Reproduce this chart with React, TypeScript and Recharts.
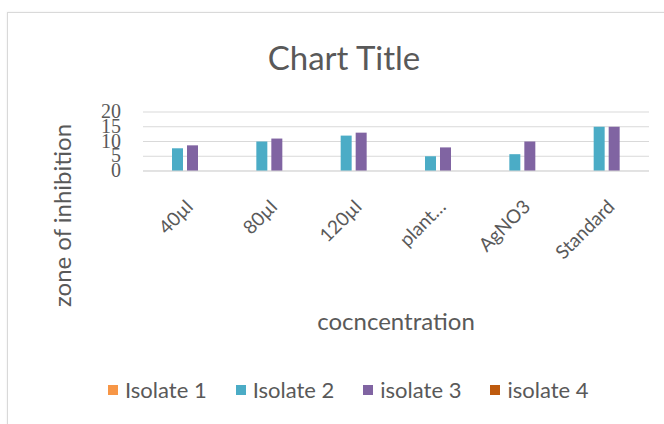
import React from 'react';
import { BarChart, Bar, XAxis, YAxis, CartesianGrid, Legend } from 'recharts';

const categories = ['40µl', '80µl', '120µl', 'plant…', 'AgNO3', 'Standard'];
const isolate1: (number | null)[] = [null, null, null, null, null, null];
const isolate2 = [7.7, 10, 12, 5, 5.7, 15];
const isolate3 = [8.7, 11, 13, 8, 10, 15];
const isolate4: (number | null)[] = [null, null, null, null, null, null];
const yTicks = [0, 5, 10, 15, 20];

const series = [
  { key: 'i1', name: 'Isolate 1', color: '#F79646', values: isolate1 },
  { key: 'i2', name: 'Isolate 2', color: '#4BACC6', values: isolate2 },
  { key: 'i3', name: 'isolate 3', color: '#8064A2', values: isolate3 },
  { key: 'i4', name: 'isolate 4', color: '#BE5A0E', values: isolate4 },
];

const rows = categories.map((name, i) => {
  const row: Record<string, string | number | null> = { name };
  series.forEach((s) => {
    row[s.key] = s.values[i];
  });
  return row;
});

const FONT = 'Lato, "Open Sans", sans-serif';
const GRAY = '#595959';

const CategoryTick = (props: any) => {
  const { x, y, payload } = props;
  return (
    <g transform={`translate(${x + 9},${y + 29})`}>
      <text textAnchor="end" transform="rotate(-45)" fill={GRAY} fontSize={19} fontFamily={FONT}>
        {payload.value}
      </text>
    </g>
  );
};

// serif digits packed tightly, they overlap each other on purpose
const ValueTick = (props: any) => {
  const { y, payload } = props;
  return (
    <text x={121} y={y} dy={6} textAnchor="end" fill={GRAY} fontSize={20} fontFamily='"Liberation Serif", serif'>
      {payload.value}
    </text>
  );
};

const YTitle = (props: any) => {
  const { viewBox } = props;
  const cx = 61;
  const cy = viewBox.y + viewBox.height / 2 + 74;
  return (
    <text x={cx} y={cy} transform={`rotate(-90 ${cx} ${cy})`} textAnchor="middle" dominantBaseline="central" fill={GRAY} fontSize={24} fontFamily={FONT}>
      zone of inhibition
    </text>
  );
};

const LegendRow = (props: any) => {
  const { payload } = props;
  return (
    <div style={{ display: 'flex', gap: 29, fontFamily: FONT, fontSize: 22, color: GRAY, alignItems: 'center', whiteSpace: 'nowrap' }}>
      {payload.map((p: any) => (
        <div key={p.value} style={{ display: 'flex', alignItems: 'center', gap: 7 }}>
          <span style={{ width: 10, height: 10, background: p.color, display: 'inline-block' }} />
          <span>{p.value}</span>
        </div>
      ))}
    </div>
  );
};

export default function App() {
  return (
    <div style={{ position: 'absolute', left: 0, top: 0, width: 664, height: 424, overflow: 'hidden', background: '#fff' }}>
      <div style={{ position: 'absolute', left: 7, top: 12, width: 700, height: 440, border: '1px solid #d9d9d9', boxShadow: '0 0 2px rgba(0,0,0,0.08)' }} />
      <div style={{ position: 'absolute', left: 0, top: 37, width: 688, textAlign: 'center', fontFamily: FONT, fontSize: 33, color: GRAY }}>
        Chart Title
      </div>
      <div style={{ position: 'absolute', left: 0, top: 0 }}>
        <BarChart
          width={664}
          height={424}
          data={rows}
          margin={{ top: 112, right: 15, left: 0, bottom: 88 }}
          barSize={11}
          barGap={4}
        >
          <CartesianGrid vertical={false} stroke="#d9d9d9" />
          <XAxis
            dataKey="name"
            height={165}
            tick={<CategoryTick />}
            tickLine={false}
            axisLine={{ stroke: '#d9d9d9' }}
            interval={0}
            label={{ value: 'cocncentration', position: 'insideBottom', offset: 6, fill: GRAY, fontSize: 24, fontFamily: FONT }}
          />
          <YAxis
            width={143}
            domain={[0, 20]}
            ticks={yTicks}
            interval={0}
            tick={<ValueTick />}
            tickLine={false}
            axisLine={false}
            label={<YTitle />}
          />
          <Legend
            verticalAlign="middle"
            align="center"
            content={<LegendRow />}
            wrapperStyle={{ position: 'absolute', top: 376, left: 108, width: 'auto' }}
          />
          {series.map((s) => (
            <Bar key={s.key} dataKey={s.key} name={s.name} fill={s.color} isAnimationActive={false} />
          ))}
        </BarChart>
      </div>
    </div>
  );
}
